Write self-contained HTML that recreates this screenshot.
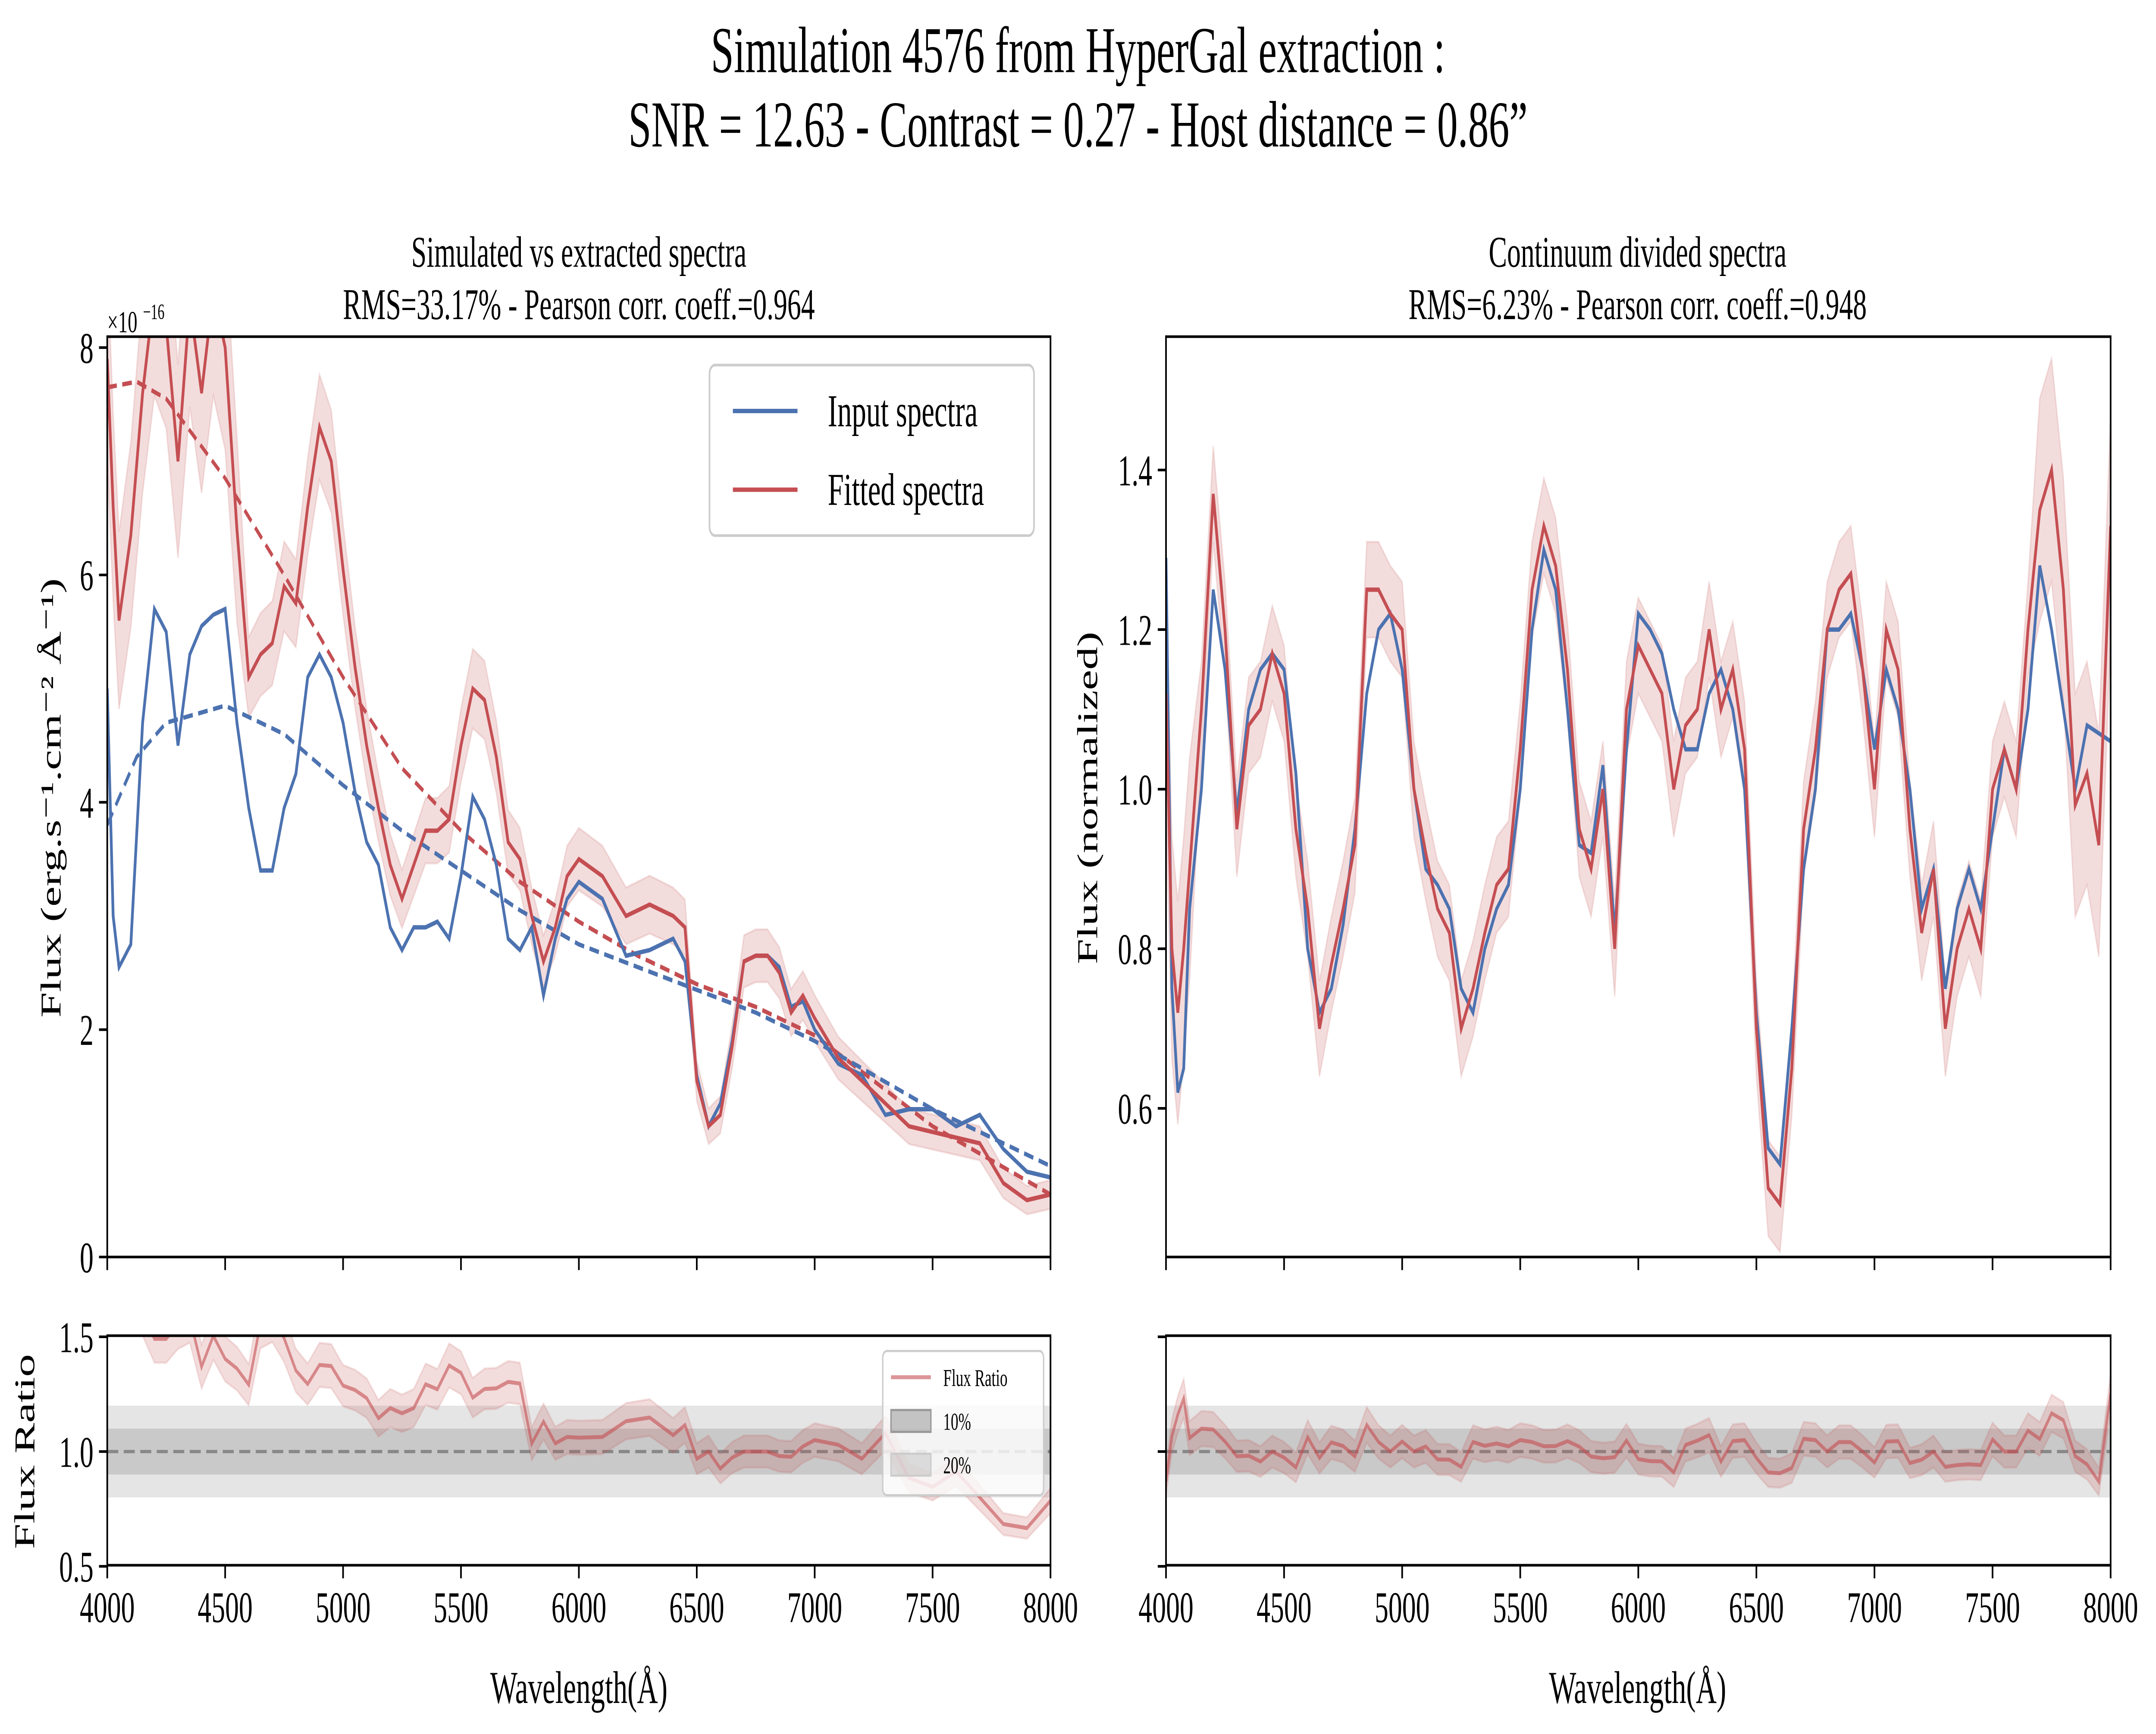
<!DOCTYPE html>
<html><head><meta charset="utf-8">
<style>
html,body{margin:0;padding:0;background:#fff;width:100vw;height:100vh;overflow:hidden;}
svg{display:block;font-family:"Liberation Serif",serif;width:100vw;height:100vh;}
</style></head>
<body>
<svg xmlns="http://www.w3.org/2000/svg" viewBox="0 0 1568 793.2" preserveAspectRatio="none">
<g id="fig">
<rect x="0" y="0" width="1568" height="793.2" fill="#fff"/>
<text x="784" y="33" font-size="30" text-anchor="middle">Simulation 4576 from HyperGal extraction :</text>
<text x="784" y="67" font-size="30" text-anchor="middle">SNR = 12.63 - Contrast = 0.27 - Host distance = 0.86”</text>
<text x="421" y="122" font-size="20" text-anchor="middle">Simulated vs extracted spectra</text>
<text x="421" y="146" font-size="20" text-anchor="middle">RMS=33.17% - Pearson corr. coeff.=0.964</text>
<text x="1191" y="122" font-size="20" text-anchor="middle">Continuum divided spectra</text>
<text x="1191" y="146" font-size="20" text-anchor="middle">RMS=6.23% - Pearson corr. coeff.=0.948</text>
<defs>
<clipPath id="cTL"><rect x="78" y="154" width="686" height="421"/></clipPath>
<clipPath id="cTR"><rect x="848" y="154" width="687" height="421"/></clipPath>
<clipPath id="cBL"><rect x="78" y="611" width="686" height="105"/></clipPath>
<clipPath id="cBR"><rect x="848" y="611" width="687" height="105"/></clipPath>
</defs>
<g id="layer"></g>
</g>
</svg>
<script>
// ---- data ----
const leftWl = [4000,4025,4050,4100,4150,4200,4250,4300,4350,4400,4450,4500,4550,4600,4650,4700,4750,4800,4850,4900,4950,5000,5050,5100,5150,5200,5250,5300,5350,5400,5450,5500,5550,5600,5650,5700,5750,5800,5850,5900,5950,6000,6100,6200,6300,6400,6450,6500,6550,6600,6650,6700,6750,6800,6850,6900,6950,7000,7100,7200,7300,7400,7500,7600,7700,7800,7900,8000];
const leftInput = [5.0,3.0,2.55,2.75,4.7,5.7,5.5,4.5,5.3,5.55,5.65,5.7,4.7,3.95,3.4,3.4,3.95,4.25,5.1,5.3,5.1,4.7,4.1,3.65,3.45,2.9,2.7,2.9,2.9,2.95,2.8,3.35,4.05,3.85,3.45,2.8,2.7,2.9,2.3,2.8,3.15,3.3,3.15,2.65,2.7,2.8,2.6,1.6,1.15,1.35,1.9,2.6,2.65,2.65,2.55,2.2,2.25,2.0,1.7,1.6,1.25,1.3,1.3,1.15,1.25,0.95,0.75,0.7];
const leftFitted = [7.9,6.6,5.6,6.35,7.6,8.5,8.2,7.0,8.4,7.6,8.5,8.0,6.4,5.1,5.3,5.4,5.9,5.75,6.6,7.3,7.0,6.05,5.2,4.5,3.95,3.45,3.15,3.45,3.75,3.75,3.85,4.5,5.0,4.9,4.4,3.65,3.5,3.0,2.6,2.9,3.35,3.5,3.35,3.0,3.1,3.0,2.9,1.55,1.15,1.25,1.85,2.6,2.65,2.65,2.5,2.15,2.3,2.1,1.75,1.55,1.35,1.15,1.1,1.05,1.0,0.65,0.5,0.55];
const contWl = [4000,4125,4250,4500,4750,5000,5250,5500,5750,6000,6250,6500,6750,7000,7250,7500,7750,8000];
const contInput = [3.8,4.4,4.7,4.85,4.6,4.15,3.75,3.4,3.05,2.75,2.55,2.35,2.15,1.9,1.6,1.3,1.05,0.8];
const contFitted = [7.65,7.7,7.55,6.85,6.0,5.1,4.3,3.75,3.3,2.95,2.65,2.4,2.2,1.95,1.55,1.15,0.85,0.55];
const rightWl = [4000,4025,4050,4075,4100,4150,4200,4250,4300,4350,4400,4450,4500,4550,4600,4650,4700,4750,4800,4850,4900,4950,5000,5050,5100,5150,5200,5250,5300,5350,5400,5450,5500,5550,5600,5650,5700,5750,5800,5850,5900,5950,6000,6050,6100,6150,6200,6250,6300,6350,6400,6450,6500,6550,6600,6650,6700,6750,6800,6850,6900,6950,7000,7050,7100,7150,7200,7250,7300,7350,7400,7450,7500,7550,7600,7650,7700,7750,7800,7850,7900,7950,8000];
const rightInput = [1.29,0.75,0.62,0.65,0.85,1.0,1.25,1.15,0.97,1.1,1.15,1.17,1.15,1.02,0.8,0.72,0.75,0.83,0.95,1.12,1.2,1.22,1.15,1.0,0.9,0.88,0.85,0.75,0.72,0.8,0.85,0.88,1.0,1.2,1.3,1.25,1.1,0.93,0.92,1.03,0.82,1.05,1.22,1.2,1.17,1.1,1.05,1.05,1.12,1.15,1.1,1.0,0.72,0.55,0.53,0.7,0.9,1.0,1.2,1.2,1.22,1.15,1.05,1.15,1.1,1.0,0.85,0.9,0.75,0.85,0.9,0.85,0.95,1.05,1.0,1.1,1.28,1.2,1.1,1.0,1.08,1.07,1.06];
const rightFitted = [1.12,0.8,0.72,0.8,0.9,1.1,1.37,1.2,0.95,1.08,1.1,1.17,1.12,0.95,0.85,0.7,0.78,0.85,0.93,1.25,1.25,1.22,1.2,1.0,0.92,0.85,0.82,0.7,0.75,0.82,0.88,0.9,1.05,1.25,1.33,1.28,1.15,0.95,0.9,1.0,0.8,1.1,1.18,1.15,1.12,1.0,1.08,1.1,1.2,1.1,1.15,1.05,0.7,0.5,0.48,0.65,0.95,1.05,1.2,1.25,1.27,1.15,1.0,1.2,1.15,0.95,0.82,0.9,0.7,0.8,0.85,0.8,1.0,1.05,1.0,1.2,1.35,1.4,1.25,0.98,1.02,0.93,1.33];
const xTicks = [4000,4500,5000,5500,6000,6500,7000,7500,8000];
const leftYTicks = [0,2,4,6,8];
const rightYTicks = [0.6,0.8,1.0,1.2,1.4];
const ratioYTicks = [0.5,1.0,1.5];

// ---- scales ----
const BLUE='#4c72b0', RED='#c44e52';
function xL(w){return 78+(w-4000)/4000*686;}
function xR(w){return 848+(w-4000)/4000*687;}
function yL(v){return 575-v*52;}
function yR(v){return 361-(v-1)*365;}
function yB(v){return 664-(v-1)*105;}
const NS='http://www.w3.org/2000/svg';
const root=document.getElementById('layer');
function mk(tag,attrs,parent){const e=document.createElementNS(NS,tag);for(const k in attrs)e.setAttribute(k,attrs[k]);(parent||root).appendChild(e);return e;}
function linePath(ws,vs,fx,fy){return ws.map((w,i)=>(i?'L':'M')+fx(w).toFixed(2)+' '+fy(vs[i]).toFixed(2)).join(' ');}
function bandPath(ws,vs,errs,fx,fy){
  let d=ws.map((w,i)=>(i?'L':'M')+fx(w).toFixed(2)+' '+fy(vs[i]+errs[i]).toFixed(2)).join(' ');
  for(let i=ws.length-1;i>=0;i--)d+='L'+fx(ws[i]).toFixed(2)+' '+fy(vs[i]-errs[i]).toFixed(2);
  return d+'Z';
}

// ---- top-left ----
let g=mk('g',{'clip-path':'url(#cTL)'});


let errL=leftFitted.map((v,i)=>v*0.05+(leftWl[i]<4600?0.5:0.1));
let e=mk('path',{d:bandPath(leftWl,leftFitted,errL,xL,yL),fill:RED,'fill-opacity':0.2,stroke:RED,'stroke-opacity':0.15},g);


e=mk('path',{d:linePath(contWl,contFitted,xL,yL),fill:'none',stroke:RED,'stroke-width':2,'stroke-dasharray':'7 4'},g);


e=mk('path',{d:linePath(contWl,contInput,xL,yL),fill:'none',stroke:BLUE,'stroke-width':2,'stroke-dasharray':'7 4'},g);


e=mk('path',{d:linePath(leftWl,leftInput,xL,yL),fill:'none',stroke:BLUE,'stroke-width':2},g);


e=mk('path',{d:linePath(leftWl,leftFitted,xL,yL),fill:'none',stroke:RED,'stroke-width':2},g);



// ---- top-right ----
g=mk('g',{'clip-path':'url(#cTR)'});


let errR=rightWl.map(w=>(w<4150||w>7650)?0.14:0.06);
e=mk('path',{d:bandPath(rightWl,rightFitted,errR,xR,yR),fill:RED,'fill-opacity':0.2,stroke:RED,'stroke-opacity':0.15},g);


e=mk('path',{d:linePath(rightWl,rightInput,xR,yR),fill:'none',stroke:BLUE,'stroke-width':2},g);


e=mk('path',{d:linePath(rightWl,rightFitted,xR,yR),fill:'none',stroke:RED,'stroke-width':2},g);



// ---- ratio panels ----
function ratioPanel(clip,ws,num,den,fx,x0,x1,name){
  const gg=mk('g',{'clip-path':'url(#'+clip+')'});
  
  
  let r=mk('rect',{x:x0,y:yB(1.2),width:x1-x0,height:yB(0.8)-yB(1.2),fill:'#000','fill-opacity':0.1},gg);
  
  
  r=mk('rect',{x:x0,y:yB(1.1),width:x1-x0,height:yB(0.9)-yB(1.1),fill:'#000','fill-opacity':0.12},gg);
  
  
  r=mk('line',{x1:x0,x2:x1,y1:yB(1),y2:yB(1),stroke:'#888','stroke-width':1.5,'stroke-dasharray':'8 4'},gg);
  
  
  const ratio=num.map((v,i)=>v/den[i]);
  const err=ratio.map(v=>v*0.07);
  r=mk('path',{d:bandPath(ws,ratio,err,fx,yB),fill:RED,'fill-opacity':0.2,stroke:RED,'stroke-opacity':0.15},gg);
  
  
  r=mk('path',{d:linePath(ws,ratio,fx,yB),fill:'none',stroke:RED,'stroke-opacity':0.6,'stroke-width':1.8},gg);
  
  
}
ratioPanel('cBL',leftWl,leftFitted,leftInput,xL,78,764,'left-ratio-plot');
ratioPanel('cBR',rightWl,rightFitted,rightInput,xR,848,1535,'right-ratio-plot');

// ---- axes ----
function frame(x,y,w,h,name){const r=mk('rect',{x:x,y:y,width:w,height:h,fill:'none',stroke:'#000','stroke-width':1.2});

}
frame(78,154,686,421,'left-top-frame');
frame(848,154,687,421,'right-top-frame');
frame(78,611,686,105,'left-ratio-frame');
frame(848,611,687,105,'right-ratio-frame');
function xAxis(fx,yb,labels,name){
  xTicks.forEach(t=>{
    const l=mk('line',{x1:fx(t),x2:fx(t),y1:yb,y2:yb+6,stroke:'#000','stroke-width':1.2});
    
    
    if(labels){const tx=mk('text',{x:fx(t),y:yb+26,'font-size':20,'text-anchor':'middle'});tx.textContent=t;
    
    }
  });
}
xAxis(xL,575,false,'left-top-x');
xAxis(xR,575,false,'right-top-x');
xAxis(xL,716,true,'left-bottom-x');
xAxis(xR,716,true,'right-bottom-x');
function yAxis(x0,ticks,fy,labels,fmt,name){
  ticks.forEach(t=>{
    const l=mk('line',{x1:x0-6,x2:x0,y1:fy(t),y2:fy(t),stroke:'#000','stroke-width':1.2});
    
    
    if(labels){const tx=mk('text',{x:x0-10,y:fy(t)+7,'font-size':20,'text-anchor':'end'});tx.textContent=fmt(t);
    
    }
  });
}
yAxis(78,leftYTicks,yL,true,t=>String(t),'left-y');
yAxis(848,rightYTicks,yR,true,t=>t.toFixed(1),'right-y');
yAxis(78,ratioYTicks,yB,true,t=>t.toFixed(1),'left-ratio-y');
yAxis(848,ratioYTicks,yB,false,t=>t.toFixed(1),'right-ratio-y');
</script>
<script>
(function(){
const NS='http://www.w3.org/2000/svg';
const svg=document.getElementById('fig');
function t(x,y,s,txt,opts){const e=document.createElementNS(NS,'text');e.setAttribute('x',x);e.setAttribute('y',y);e.setAttribute('font-size',s);
for(const k in (opts||{}))e.setAttribute(k,opts[k]);e.textContent=txt;svg.appendChild(e);return e;}
let e=t(78,152,14,'×10',{});


e=t(104,146,10,'−16',{});


e=t(0,0,21,'Flux (erg.s⁻¹.cm⁻² Å⁻¹)',{transform:'translate(44,365) rotate(-90)','text-anchor':'middle'});


e=t(0,0,21,'Flux (normalized)',{transform:'translate(798,365) rotate(-90)','text-anchor':'middle'});


e=t(0,0,21,'Flux Ratio',{transform:'translate(25,664) rotate(-90)','text-anchor':'middle'});


e=t(421,779,21,'Wavelength(Å)',{'text-anchor':'middle'});


e=t(1191,779,21,'Wavelength(Å)',{'text-anchor':'middle'});


const lg=document.createElementNS(NS,'g');


svg.appendChild(lg);
lg.innerHTML='<rect x="516" y="167" width="236" height="78" rx="4" fill="#fff" fill-opacity="0.85" stroke="#ccc" stroke-width="1.2"/>'+
'<line x1="533" x2="580" y1="188" y2="188" stroke="#4c72b0" stroke-width="2"/>'+
'<text x="602" y="195" font-size="21">Input spectra</text>'+
'<line x1="533" x2="580" y1="224" y2="224" stroke="#c44e52" stroke-width="2"/>'+
'<text x="602" y="231" font-size="21">Fitted spectra</text>';
const sl=document.createElementNS(NS,'g');


svg.appendChild(sl);
sl.innerHTML='<rect x="642" y="618" width="117" height="66" rx="3" fill="#fff" fill-opacity="0.8" stroke="#ccc" stroke-width="1"/>'+
'<line x1="648" x2="677" y1="630" y2="630" stroke="#c44e52" stroke-opacity="0.6" stroke-width="1.8"/>'+
'<text x="686" y="634" font-size="11">Flux Ratio</text>'+
'<rect x="648" y="645" width="29" height="10" fill="#000" fill-opacity="0.22" stroke="#999"/>'+
'<text x="686" y="654" font-size="11">10%</text>'+
'<rect x="648" y="665" width="29" height="10" fill="#000" fill-opacity="0.1" stroke="#ccc"/>'+
'<text x="686" y="674" font-size="11">20%</text>';
})();
</script>
</body></html>
